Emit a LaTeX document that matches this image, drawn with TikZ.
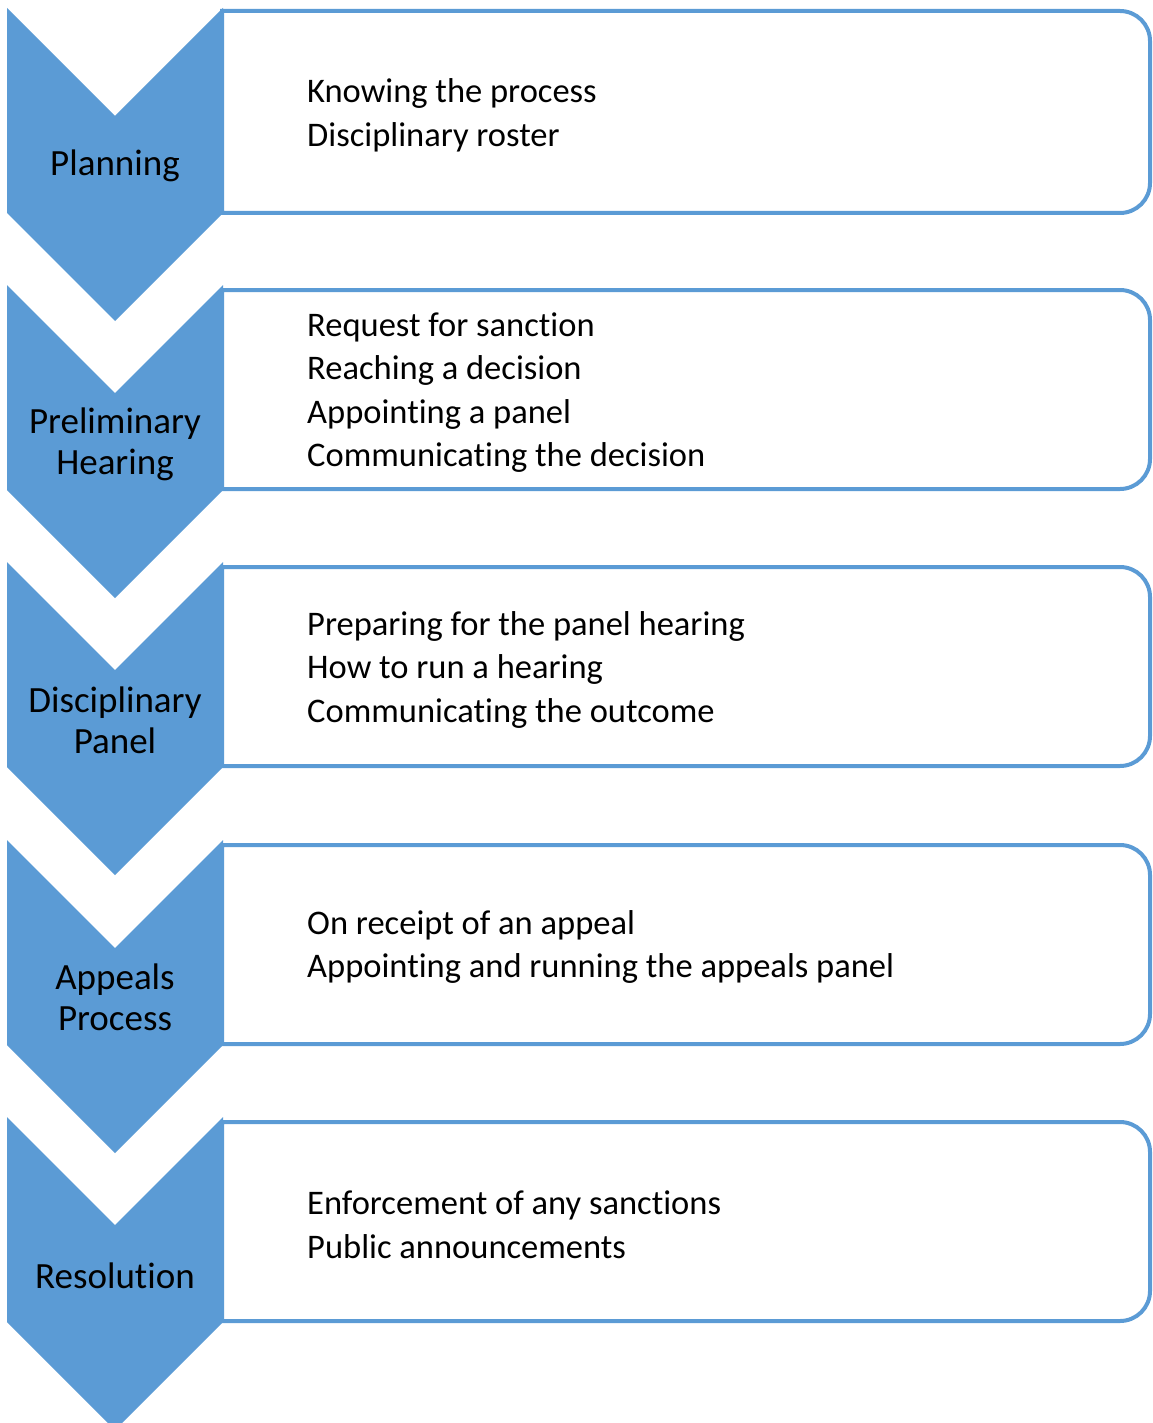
\documentclass[tikz,border=0pt]{standalone}
\usepackage{fontspec}
\setmainfont{Carlito}[Ligatures={NoCommon}]
\definecolor{stepblue}{HTML}{5B9BD5}

\begin{document}
\begin{tikzpicture}[x=1bp, y=-1bp, every node/.style={font=\fontsize{34.5bp}{43.5bp}\selectfont}]
        \tikzstyle{chevron}=[fill=stepblue, draw=none]
        \tikzstyle{stepbox}=[draw=stepblue, line width=4bp, fill=white]
        \tikzstyle{label}=[fill=none, draw=none, align=center, font=\fontsize{37bp}{41bp}\selectfont]
        \tikzstyle{items}=[fill=none, draw=none, align=left, anchor=west, inner sep=0pt]
        \useasboundingbox (0,0) rectangle (1152,1423);

        % boxes
        \draw [style=stepbox] (222,11) [rounded corners=30bp] -- (1150,11) -- (1150,213) [sharp corners] -- (222,213) -- cycle;
        \draw [style=stepbox] (222,290) [rounded corners=30bp] -- (1150,290) -- (1150,489) [sharp corners] -- (222,489) -- cycle;
        \draw [style=stepbox] (222,567) [rounded corners=30bp] -- (1150,567) -- (1150,766) [sharp corners] -- (222,766) -- cycle;
        \draw [style=stepbox] (222,845) [rounded corners=30bp] -- (1150,845) -- (1150,1044) [sharp corners] -- (222,1044) -- cycle;
        \draw [style=stepbox] (222,1122) [rounded corners=30bp] -- (1150,1122) -- (1150,1321) [sharp corners] -- (222,1321) -- cycle;

        % chevrons
        \fill [style=chevron] (7,8) -- (115,116) -- (223,8) -- (223,213) -- (115,321) -- (7,213) -- cycle;
        \fill [style=chevron] (7,285) -- (115,393) -- (223,285) -- (223,490) -- (115,598) -- (7,490) -- cycle;
        \fill [style=chevron] (7,562) -- (115,670) -- (223,562) -- (223,767) -- (115,875) -- (7,767) -- cycle;
        \fill [style=chevron] (7,840) -- (115,948) -- (223,840) -- (223,1045) -- (115,1153) -- (7,1045) -- cycle;
        \fill [style=chevron] (7,1117) -- (115,1225) -- (223,1117) -- (223,1322) -- (115,1430) -- (7,1322) -- cycle;

        \node [style=label] (1) at (115,166) {Planning};
        \node [style=label] (2) at (115,444) {Preliminary\\Hearing};
        \node [style=label] (3) at (115,720) {Disciplinary\\Panel};
        \node [style=label] (4) at (115,997) {Appeals\\Process};
        \node [style=label] (5) at (115,1276) {Resolution};

        \node [style=items] (6) at (307,115.5) {Knowing the process\\Disciplinary roster};
        \node [style=items] (7) at (307,392.5) {Request for sanction\\Reaching a decision\\Appointing a panel\\Communicating the decision};
        \node [style=items] (8) at (307,669.5) {Preparing for the panel hearing\\How to run a hearing\\Communicating the outcome};
        \node [style=items] (9) at (307,947) {On receipt of an appeal\\Appointing and running the appeals panel};
        \node [style=items] (10) at (307,1224.5) {Enforcement of any sanctions\\Public announcements};
    \end{tikzpicture}
\end{document}
